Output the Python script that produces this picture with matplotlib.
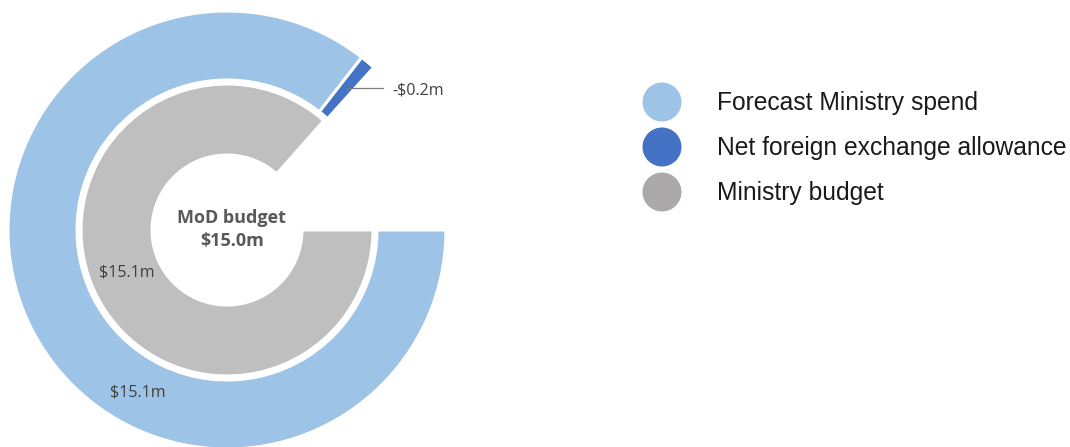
import matplotlib
matplotlib.use("Agg")
import matplotlib.pyplot as plt
from matplotlib.patches import Circle

# ---- data ----
categories = ["Forecast Ministry spend", "Net foreign exchange allowance", "Ministry budget"]
forecast_spend = 15.1
fx_allowance = -0.2
ministry_budget = 15.1
mod_budget_total = 15.0
labels_outer = ["$15.1m", "-$0.2m"]
label_inner = "$15.1m"
center_title = "MoD budget"
center_value = "$15.0m"

# ---- style ----
c_light = "#9DC3E6"
c_dark = "#4472C4"
c_gray = "#BFBFBF"
c_gray_leg = "#ABA9A9"
txt = "#404040"

W, H = 1070, 447
fig = plt.figure(figsize=(W / 100, H / 100), dpi=100)
ax = fig.add_axes([0, 0, 1, 1])

cx, cy = 227, H - 230
outer_full = 17.65   # value equivalent of a full turn, outer ring
inner_full = 17.45   # value equivalent of a full turn, inner ring

outer_vals = [forecast_spend, abs(fx_allowance)]
outer_vals.append(outer_full - sum(outer_vals))
w_out, _ = ax.pie(outer_vals, colors=[c_light, c_dark, "none"], startangle=0,
                  counterclock=False, center=(cx, cy), radius=219,
                  wedgeprops=dict(width=69, edgecolor="white", linewidth=2.2))
w_out[2].set_edgecolor("none")

inner_vals = [ministry_budget, inner_full - ministry_budget]
w_in, _ = ax.pie(inner_vals, colors=[c_gray, "none"], startangle=0,
                 counterclock=False, center=(cx, cy), radius=146,
                 wedgeprops=dict(width=71, edgecolor="white", linewidth=2.2))
w_in[1].set_edgecolor("none")

font_lbl = ["Open Sans", "DejaVu Sans"]
ax.text(138, H - 392, labels_outer[0], ha="center", va="center", fontsize=11.5,
        color=txt, family=font_lbl)
ax.text(127, H - 273, label_inner, ha="center", va="center", fontsize=11.5,
        color=txt, family=font_lbl)
ax.plot([347, 383], [H - 88, H - 88], color="#7f7f7f", lw=0.9)
ax.text(392, H - 91, labels_outer[1], ha="left", va="center", fontsize=11.5,
        color=txt, family=font_lbl)

ax.text(231, H - 218, center_title, ha="center", va="center", fontsize=13,
        fontweight="bold", color="#595959", family=font_lbl)
ax.text(232, H - 241, center_value, ha="center", va="center", fontsize=13,
        fontweight="bold", color="#595959", family=font_lbl)

# legend
leg_colors = [c_light, c_dark, c_gray_leg]
leg_y = [102, 147, 192]
for name, col, y in zip(categories, leg_colors, leg_y):
    ax.add_patch(Circle((662, H - y), 19.5, color=col, lw=0))
    ax.text(717, H - y - 1, name, ha="left", va="center", fontsize=17.7,
            color="#1a1a1a", family=["Liberation Sans", "DejaVu Sans"])

ax.set_xlim(0, W)
ax.set_ylim(0, H)
ax.set_aspect("equal")
ax.axis("off")
fig.savefig("out.png", dpi=100)
